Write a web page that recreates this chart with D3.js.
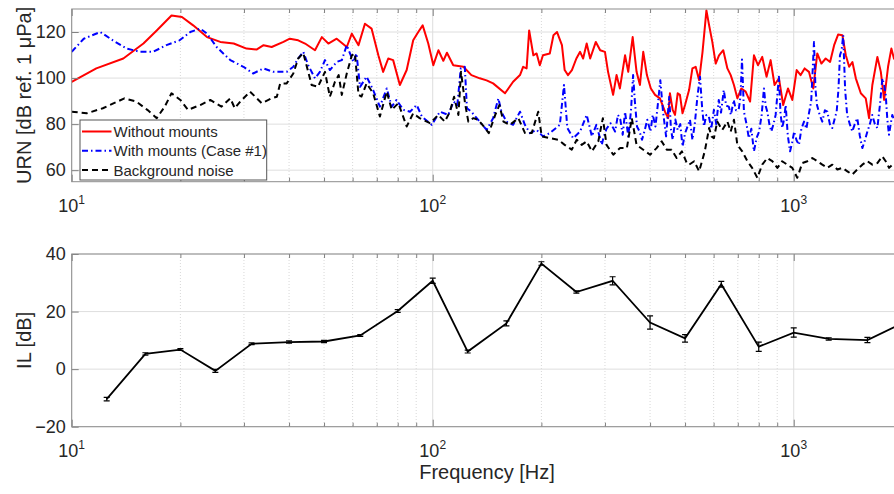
<!DOCTYPE html>
<html>
<head>
<meta charset="utf-8">
<script src="https://cdn.jsdelivr.net/npm/d3@7"></script>
<style>
  body { margin: 0; background: #fff; }
  text { font-family: "Liberation Sans", Arial, sans-serif; fill: #262626; }
</style>
</head>
<body>
<div id="chart"></div>
<script>
// [frequency Hz, level dB]
const withoutMounts = [[10,98.4],[11.7,104.2],[13.9,108.5],[15.8,115],[17.2,120.7],[18.9,127.2],[20.2,126.5],[21.7,122.9],[23.7,117.8],[25.8,115.7],[28.1,115],[30.5,112.8],[32.5,112.4],[34,114.3],[35.8,113.5],[38.6,115.7],[40.2,117.1],[42.4,116.4],[44.3,115],[47.2,112.1],[49.3,117.8],[51.4,115],[54.2,117.1],[57.8,113.5],[59.7,119.3],[62.3,114.3],[64.9,123.6],[67.7,121.5],[70.7,109.9],[72.9,102.7],[75.3,108.5],[77.7,107.8],[81.1,97],[84.7,103.5],[88.3,116.4],[91.2,120],[93.8,122.9],[97.2,115],[100.4,105.6],[103.7,112.1],[107,107.5],[109.5,111],[114,105.6],[121.6,104.9],[128,101.3],[135,99.9],[141,99],[147,97.7],[158.6,93.4],[167,98.4],[174.5,101.3],[178,104.9],[182,104.2],[185,120.7],[190,109.9],[194,110.7],[198,105.6],[202,109.9],[211,110.7],[216,118.6],[221,120],[228,114.3],[232,103.5],[237,101.3],[243,103.5],[250,108.5],[256,111.4],[261,108.5],[267,115],[273,108.5],[283,115.7],[291,112.1],[300,111.4],[306,102.7],[316,92.7],[323,101.3],[330,95.5],[341,109.9],[348,102.7],[358,117.8],[367,102.7],[375,97],[383,111.4],[392,101.3],[402,95.5],[413,92.7],[426,91.2],[440,85.4],[449,82.6],[454,93.4],[462,86.2],[469,84],[477,93.4],[484,92.7],[492,84.7],[500,88.3],[513,94.8],[524,104.2],[535,104.9],[547,99.1],[559,111.4],[573,129.4],[583,122.9],[595,115.7],[608,106.3],[621,109.9],[638,112.1],[655,104.2],[669,101.3],[683,97],[698,91.2],[716,95.5],[736,94.1],[757,89.8],[776,109.9],[796,105.6],[818,109.2],[841,100.6],[863,107.8],[885,97],[910,99.9],[935,88.3],[964,95.5],[991,90.5],[1019,103.5],[1045,101.3],[1072,104.2],[1102,102.7],[1133,95.5],[1162,110.7],[1193,106.3],[1226,108.5],[1261,107],[1294,114.3],[1327,118.9],[1364,118.6],[1394,109.9],[1424,104.9],[1454,107],[1486,99.9],[1534,93.4],[1583,91.2],[1617,82.6],[1651,97],[1705,109.2],[1743,102.7],[1780,90.5],[1825,104.9],[1864,112.8],[1895,108.5],[1950,106]];

const withMounts = [[10,111.4],[10.8,117.1],[12,120],[13,116.4],[14.2,112.8],[15.5,111.4],[16.8,111.4],[18.3,114.3],[19.9,116.4],[21.3,120],[22.7,121.5],[23.7,119.3],[25.2,113.5],[27.5,107.8],[29.9,104.9],[31.8,102],[34,104.2],[36.2,102.7],[39.4,102.7],[41.1,104.9],[42.4,108.5],[43.8,111.4],[45.2,105.6],[47.2,99.9],[48.7,102.7],[50.3,107.8],[51.9,103.5],[54.2,107],[56,107.8],[57.8,114.3],[59,110.7],[60.3,107],[61.5,110.7],[62.9,96.2],[65.6,100.6],[68.4,94.8],[71.4,87.6],[74.6,95.5],[77,87.6],[79.4,90.5],[82.9,86.2],[86.5,85.4],[90.3,88.3],[93.3,83.3],[99.4,79.7],[104.7,85.4],[110.4,84],[114.2,89.8],[117,88.3],[119.6,104.2],[122.7,104.9],[124.4,86.9],[128,85.4],[132.4,82.6],[141,77.5],[147,82.6],[152,91.2],[155,85.4],[160,81.1],[167,79.7],[174.5,85.4],[180,79.7],[186,76.1],[194,77.5],[202,74.7],[211,76.1],[225,79.7],[231,97],[236,78.3],[245,73.9],[256,76.8],[267,84],[276,74.7],[284,79.7],[294,71],[297,74],[303,78],[311,80.4],[320,76.8],[326,84],[331,81.9],[336,75.4],[341,85.4],[348,74.7],[354,85.4],[359,101.3],[363,90],[368,79],[374,76.8],[380,73.2],[386,77],[393,81.9],[401,76.8],[407,84],[414,79],[420,88],[427,99.1],[434,86.2],[443,74.7],[452,91.9],[457,78],[462,73.2],[470,82],[477,77.5],[485,80],[492,70.3],[500,76],[508,79],[516,81.9],[524,73.2],[532,80],[541,91.9],[550,100.6],[557,88],[564,79],[573,84],[582,83.3],[591,78],[601,86.2],[610,80],[620,90.5],[629,85],[640,94.8],[650,88],[661,87.6],[670,84],[682,90.5],[692,86],[704,86.2],[712,92],[719,108.1],[728,85.4],[740,80],[751,73.9],[763,78],[776,68.2],[789,74],[802,76.8],[815,84],[827,95.5],[836,88],[845,85.4],[856,80],[867,76.8],[879,80],[891,84],[900,92],[910,100.6],[919,85],[929,78.3],[940,82],[950,88.3],[963,75],[977,68.2],[990,72],[1003,76.8],[1018,73],[1034,71],[1050,78],[1068,81.1],[1084,78],[1100,84],[1118,90],[1138,115.7],[1149,95],[1160,88.3],[1180,84],[1200,81.1],[1220,86],[1239,85.4],[1259,80],[1279,78.3],[1297,82],[1315,85.4],[1330,95],[1343,109.9],[1357,112],[1371,118.6],[1388,95],[1406,84],[1430,80],[1453,76.8],[1476,80],[1500,82.6],[1524,75],[1549,69.6],[1575,73],[1600,76.8],[1625,80],[1650,84],[1678,80],[1705,78.3],[1732,88],[1760,99.9],[1780,97],[1798,92.7],[1817,82],[1836,75.4],[1856,80],[1875,84],[1896,81.9],[1950,80]];

const backgroundNoise = [[10,85.4],[11,84.7],[12.2,86.9],[14,91.2],[15.1,89.8],[16.2,86.2],[17.2,82.6],[18.1,87.6],[18.9,93.4],[20,90.5],[21,86.2],[22.7,88.3],[24.2,90.5],[26,87.6],[27.5,91.2],[28.3,86.9],[29.3,89.8],[31.2,94.1],[33.6,89.1],[35.8,91.2],[37,91.9],[37.8,97.7],[39.4,97.7],[41.1,102],[42.4,108.5],[43.8,110.9],[45.2,102.7],[46.2,97],[48.1,96.2],[50.3,102.7],[51.9,91.9],[53.6,98.4],[54.9,101.3],[56,92.7],[57.8,102],[59.7,109.9],[60.9,110.7],[62.3,92.7],[63.5,92],[65.6,97.7],[68.4,93.4],[71.4,83.3],[74.6,94.1],[77,86.2],[80.3,89.1],[84.7,79],[88.3,84.7],[92,82.6],[98.3,80.4],[103.6,84],[108,81.1],[111.6,85.4],[114.6,91.9],[117.8,84],[119.8,102.7],[122.9,89.1],[125.5,81.1],[129.6,82.6],[133.7,81.9],[139.6,78.3],[143,76.1],[149,84],[153,88.3],[157,81.1],[163.7,79.7],[172.6,82.6],[180.2,76.1],[188,76.1],[196,85.4],[200.4,74.7],[211,73.9],[222.8,73.2],[232,71],[242.7,68.9],[250.6,73.2],[258.6,71],[267,72.5],[276,68.2],[287.5,72.5],[296,82.6],[303,71],[316.4,66.7],[330,69.6],[345,69.6],[356,82.6],[367,71],[383,68.9],[400,66.7],[417,69.6],[431,72.5],[445,68.9],[459,68.9],[474,65.3],[490,68.2],[506,63],[513,62.4],[530,63.9],[547,59.5],[567,68.2],[583,78.3],[592,74.7],[601,73.9],[614,81.1],[634,77.5],[655,81.1],[669,76.8],[683,81.9],[698,71],[720,68.2],[744,63.9],[767,61],[793,56.7],[818,62.4],[845,65.3],[872,63.9],[901,61],[929,63.9],[960,62.4],[991,61],[1023,56.7],[1056,63.1],[1091,63.9],[1126,65.3],[1163,63.9],[1200,62.4],[1239,61],[1279,62.4],[1321,60.3],[1363,61],[1408,59.5],[1453,58.1],[1500,60.3],[1549,62.4],[1600,63.9],[1651,62.4],[1705,63.1],[1760,66],[1798,63.9],[1837,61],[1896,63.1],[1950,62]];

// third-octave bands for insertion loss
const bandFreq = [12.5,16,20,25,31.5,40,50,63,80,100,125,160,200,250,315,400,500,630,800,1000,1250,1600,2000];
const ilValues = [-10.4,5.3,6.8,-0.6,8.8,9.4,9.6,11.7,20.2,30.7,6.1,15.9,36.7,26.8,30.7,16.2,10.7,29.5,7.8,12.7,10.5,10.1,16];
const ilErr = [0.6,0.4,0.3,0.5,0.3,0.4,0.4,0.3,0.5,0.9,0.5,0.9,0.6,0.4,1.4,2.3,1.3,1.0,1.6,1.6,0.4,0.9,0.8];

const xTicks = [10, 100, 1000];
const topTicks = [60, 80, 100, 120];
const bottomTicks = [-20, 0, 20, 40];
const legendLabels = ['Without mounts', 'With mounts (Case #1)', 'Background noise'];

const W = 894, H = 494;
const left = 71.7, right = 902.4;

const svg = d3.select('#chart').append('svg')
  .attr('width', W).attr('height', H);

const x = d3.scaleLog().domain([10, 2000]).range([left, right]);
const minorX = x.ticks().filter(d => !xTicks.includes(d));

function panel(id, top, bottom, yDomain, yTicks, label) {
  const y = d3.scaleLinear().domain(yDomain).range([bottom, top]);
  const g = svg.append('g');

  // grid
  g.selectAll('.vg').data(x.ticks()).join('line')
    .attr('x1', d => x(d)).attr('x2', d => x(d))
    .attr('y1', top).attr('y2', bottom)
    .attr('stroke', d => xTicks.includes(d) ? '#dedede' : '#d8d8d8')
    .attr('stroke-dasharray', d => xTicks.includes(d) ? null : '1,2');
  g.selectAll('.hg').data(yTicks).join('line')
    .attr('x1', left).attr('x2', right)
    .attr('y1', d => y(d)).attr('y2', d => y(d))
    .attr('stroke', '#dedede');

  svg.append('clipPath').attr('id', id)
    .append('rect').attr('x', left).attr('y', top)
    .attr('width', right - left).attr('height', bottom - top);

  const data = g.append('g').attr('clip-path', 'url(#' + id + ')');

  // ticks, pointing inwards
  const ax = [
    g.append('g').attr('transform', 'translate(0,' + bottom + ')')
      .call(d3.axisBottom(x).tickValues(xTicks).tickSize(-7).tickFormat('')),
    g.append('g').attr('transform', 'translate(0,' + bottom + ')')
      .call(d3.axisBottom(x).tickValues(minorX).tickSize(-4).tickFormat('')),
    g.append('g').attr('transform', 'translate(0,' + top + ')')
      .call(d3.axisTop(x).tickValues(xTicks).tickSize(-7).tickFormat('')),
    g.append('g').attr('transform', 'translate(0,' + top + ')')
      .call(d3.axisTop(x).tickValues(minorX).tickSize(-4).tickFormat('')),
    g.append('g').attr('transform', 'translate(' + left + ',0)')
      .call(d3.axisLeft(y).tickValues(yTicks).tickSize(-7).tickPadding(6))
  ];
  ax.forEach(a => {
    a.select('.domain').remove();
    a.selectAll('line').attr('stroke', '#808080');
    a.selectAll('text').attr('font-size', 18).attr('fill', '#262626')
      .attr('font-family', '"Liberation Sans", Arial, sans-serif');
  });

  g.append('rect').attr('x', left).attr('y', top)
    .attr('width', right - left).attr('height', bottom - top)
    .attr('fill', 'none').attr('stroke', '#8c8c8c');

  const xl = g.selectAll('.xl').data(xTicks).join('text')
    .attr('x', d => x(d)).attr('y', bottom + 30)
    .attr('text-anchor', 'middle').attr('font-size', 18);
  xl.append('tspan').text('10');
  xl.append('tspan').attr('font-size', 12).attr('dy', -8)
    .text(d => Math.round(Math.log10(d)));

  g.append('text')
    .attr('transform', 'translate(31,' + (top + bottom) / 2 + ') rotate(-90)')
    .attr('text-anchor', 'middle').attr('font-size', 20)
    .text(label);

  return { y, data };
}

// top: radiated noise spectra
const p1 = panel('clipTop', 9, 181.7, [55, 130], topTicks, 'URN [dB ref. 1 μPa]');
const ln1 = d3.line().x(d => x(d[0])).y(d => p1.y(d[1]));

const styles = [
  { data: withoutMounts, color: '#ff0000', dash: null, width: 2 },
  { data: withMounts, color: '#0000ff', dash: '6,3,1.5,3', width: 2 },
  { data: backgroundNoise, color: '#000000', dash: '6,4', width: 2 }
];

styles.forEach(s => {
  p1.data.append('path')
    .attr('d', ln1(s.data))
    .attr('fill', 'none')
    .attr('stroke', s.color)
    .attr('stroke-width', s.width)
    .attr('stroke-dasharray', s.dash)
    .attr('stroke-linejoin', 'round');
});

// legend
const lg = svg.append('g');
lg.append('rect').attr('x', 80).attr('y', 120).attr('width', 186.7).attr('height', 60)
  .attr('fill', '#fff').attr('stroke', '#555').attr('stroke-width', 1);
legendLabels.forEach((t, i) => {
  const cy = 131.5 + i * 19.3;
  lg.append('line').attr('x1', 82).attr('x2', 111.5).attr('y1', cy).attr('y2', cy)
    .attr('stroke', styles[i].color).attr('stroke-width', styles[i].width)
    .attr('stroke-dasharray', styles[i].dash);
  lg.append('text').attr('x', 113.5).attr('y', cy + 5.5)
    .attr('font-size', 15).text(t);
});

// bottom: insertion loss
const p2 = panel('clipBottom', 254, 426.7, [-20, 40], bottomTicks, 'IL [dB]');
const ilData = bandFreq.map((f, i) => ({ f: f, v: ilValues[i], e: ilErr[i] }));
const ln2 = d3.line().x(d => x(d.f)).y(d => p2.y(d.v));

p2.data.append('path').attr('d', ln2(ilData))
  .attr('fill', 'none').attr('stroke', '#000').attr('stroke-width', 1.8);

const eb = p2.data.selectAll('.eb').data(ilData).join('g').attr('stroke', '#000').attr('stroke-width', 1.2);
eb.append('line').attr('x1', d => x(d.f)).attr('x2', d => x(d.f))
  .attr('y1', d => p2.y(d.v - d.e)).attr('y2', d => p2.y(d.v + d.e));
eb.append('line').attr('x1', d => x(d.f) - 3).attr('x2', d => x(d.f) + 3)
  .attr('y1', d => p2.y(d.v - d.e)).attr('y2', d => p2.y(d.v - d.e));
eb.append('line').attr('x1', d => x(d.f) - 3).attr('x2', d => x(d.f) + 3)
  .attr('y1', d => p2.y(d.v + d.e)).attr('y2', d => p2.y(d.v + d.e));

svg.append('text')
  .attr('x', (left + right) / 2).attr('y', 479)
  .attr('text-anchor', 'middle').attr('font-size', 20)
  .text('Frequency [Hz]');
</script>
</body>
</html>
